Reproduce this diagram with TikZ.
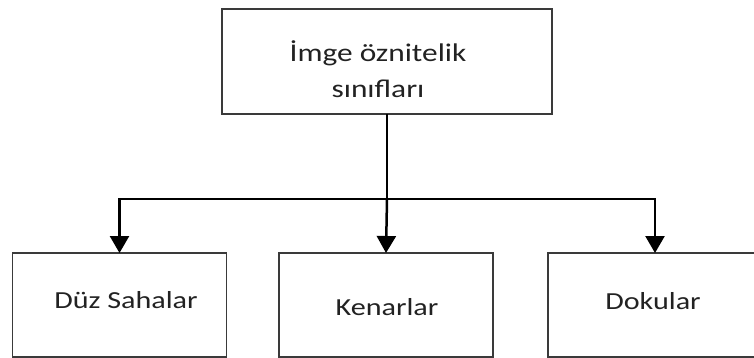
\documentclass[tikz,border=0pt]{standalone}
\usepackage{fontspec}
\setmainfont[FakeStretch=1.23]{Carlito}
\usetikzlibrary{arrows.meta}
\definecolor{boxline}{HTML}{3A3A3A}
\definecolor{txt}{HTML}{222222}
\begin{document}
\begin{tikzpicture}[x=1pt,y=-1pt,
  frame/.style={draw=boxline,line width=1.3pt,inner sep=0pt,outer sep=0pt},
  lowbox/.style={frame,minimum width=214pt,minimum height=104pt},
  lbl/.style={text=txt,inner sep=0pt,anchor=base},
  conn/.style={draw=black,line width=2.5pt,line join=miter},
  tip/.style={conn,-{Triangle[width=19pt,length=17pt]}}]
\useasboundingbox (0,0) rectangle (754,358);
\clip (0,0) rectangle (754,358);
\node[frame,minimum width=330pt,minimum height=105pt] (top) at (387,61.5) {};
\node[lowbox] (b1) at (119.5,305) {};
\node[lowbox] (b2) at (386,305) {};
\node[lowbox] (b3) at (655,305) {};
\node[lbl,font=\fontsize{25.5}{30}\selectfont] (t1) at (378,62) {İmge öznitelik};
\node[lbl,font=\fontsize{25.5}{30}\selectfont] (t2) at (378,97.5) {sınıfları};
\node[lbl,font=\fontsize{24.5}{29}\selectfont] (l1) at (126,308.3) {Düz Sahalar};
\node[lbl,font=\fontsize{24.5}{29}\selectfont] (l2) at (387,315) {Kenarlar};
\node[lbl,font=\fontsize{24.5}{29}\selectfont] (l3) at (653,309) {Dokular};
\coordinate (hub) at (top.south |- 0,199);
\draw[conn] (top.south) -- (hub);
\draw[tip] (hub) -- (b2.north);
\draw[tip] (hub) -| (b1.north);
\draw[tip] (hub) -| (b3.north);
\end{tikzpicture}
\end{document}
